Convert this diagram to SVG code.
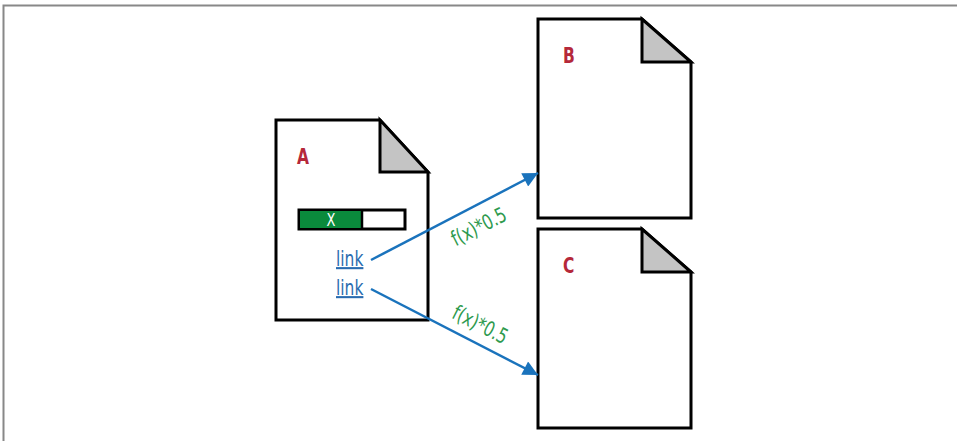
<svg xmlns="http://www.w3.org/2000/svg" width="957" height="441" viewBox="0 0 957 441">
<defs>
<style>
.doc{fill:#fff;stroke:#000;stroke-width:3;stroke-linejoin:miter}
.fold{fill:#c4c4c4;stroke:#000;stroke-width:3;stroke-linejoin:miter}
.name{font-family:"DejaVu Sans Condensed","DejaVu Sans",sans-serif;font-weight:bold;font-size:21px;fill:#b5283a}
.link{font-family:"DejaVu Sans Condensed","DejaVu Sans",sans-serif;font-size:21px;fill:#2a6cb0;text-decoration:underline}
.lbl{font-family:"DejaVu Sans Condensed","DejaVu Sans",sans-serif;font-size:21px;fill:#2e9a4e}
.edge{fill:none;stroke:#1a73bc;stroke-width:2.5}
</style>
<marker id="ah" viewBox="0 0 10 10" refX="10" refY="5" markerWidth="7.5" markerHeight="6" orient="auto" markerUnits="strokeWidth">
<path d="M0,0 L10,5 L0,10 z" fill="#1a73bc"/>
</marker>
</defs>
<rect width="957" height="441" fill="#fff"/>
<path d="M3.5,441 V5.5 H957" fill="none" stroke="#888" stroke-width="2"/>
<g id="A">
<path class="doc" d="M276,120 H380 L428,172 V320 H276 Z"/>
<path class="fold" d="M380,120 V172 H428 Z"/>
<text class="name" transform="translate(297,164) scale(0.82,1)">A</text>
<rect x="299" y="210" width="106" height="19" fill="#fff" stroke="#000" stroke-width="3"/>
<rect x="300" y="211" width="62" height="17" fill="#0a8a3c"/>
<line x1="362" y1="210" x2="362" y2="229" stroke="#000" stroke-width="2.5"/>
<text transform="translate(331,226) scale(0.85,1)" text-anchor="middle" font-family="DejaVu Sans Condensed, DejaVu Sans, sans-serif" font-size="17" fill="#fff">X</text>
<text class="link" transform="translate(336,266) scale(0.82,1)">link</text>
<text class="link" transform="translate(336,295) scale(0.82,1)">link</text>
</g>
<g id="B">
<path class="doc" d="M538,19 H642 L691,62 V218 H538 Z"/>
<path class="fold" d="M642,19 V62 H691 Z"/>
<text class="name" transform="translate(563,63) scale(0.82,1)">B</text>
</g>
<g id="C">
<path class="doc" d="M538,229 H642 L691,272 V428 H538 Z"/>
<path class="fold" d="M642,229 V272 H691 Z"/>
<text class="name" transform="translate(563,273) scale(0.82,1)">C</text>
</g>
<g id="connectors">
<line class="edge" x1="371" y1="260" x2="538" y2="173" marker-end="url(#ah)"/>
<line class="edge" x1="371" y1="289" x2="538" y2="375" marker-end="url(#ah)"/>
<text class="lbl" transform="translate(482,233) rotate(-27) scale(0.82,1)" text-anchor="middle">f(x)*0.5</text>
<text class="lbl" transform="translate(477,331) rotate(27) scale(0.82,1)" text-anchor="middle">f(x)*0.5</text>
</g>
</svg>
